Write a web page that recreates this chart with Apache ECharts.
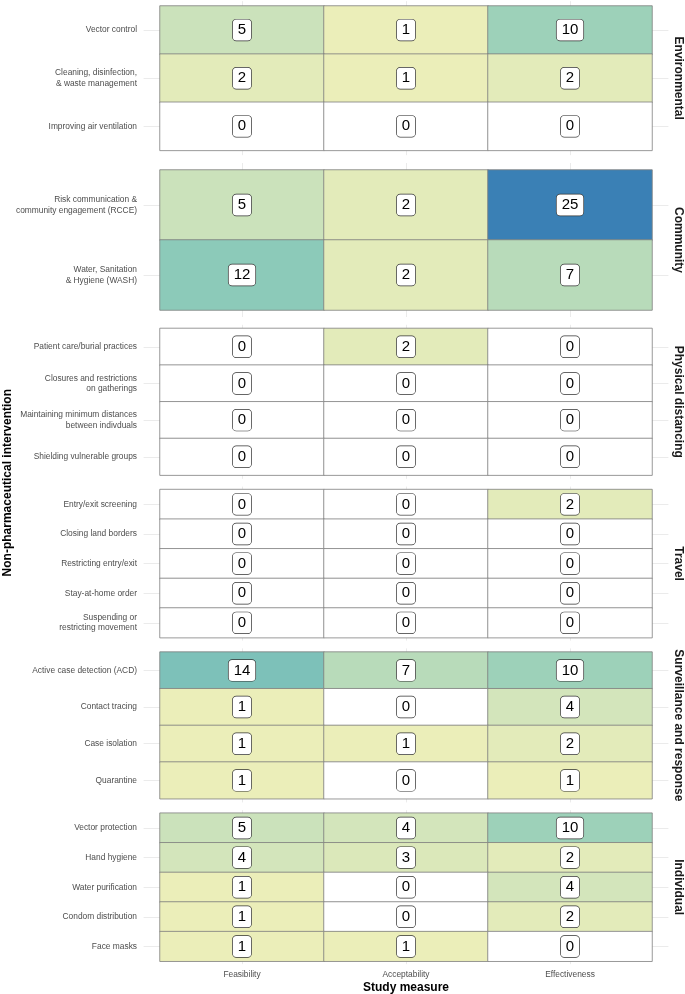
<!DOCTYPE html>
<html><head><meta charset="utf-8">
<script src="https://cdn.jsdelivr.net/npm/echarts@6/dist/echarts.min.js"></script>
<style>html,body{margin:0;padding:0;background:#fff}#c{width:685px;height:994px}</style>
</head><body><div id="c"></div>
<script>
const measures = ['Feasibility', 'Acceptability', 'Effectiveness'];
const facets = ['Environmental', 'Community', 'Physical distancing', 'Travel', 'Surveillance and response', 'Individual'];
const interventions = [
  'Vector control', 'Cleaning, disinfection,\n& waste management', 'Improving air ventilation',
  'Risk communication &\ncommunity engagement (RCCE)', 'Water, Sanitation\n& Hygiene (WASH)',
  'Patient care/burial practices', 'Closures and restrictions\non gatherings', 'Maintaining minimum distances\nbetween indivduals', 'Shielding vulnerable groups',
  'Entry/exit screening', 'Closing land borders', 'Restricting entry/exit', 'Stay-at-home order', 'Suspending or\nrestricting movement',
  'Active case detection (ACD)', 'Contact tracing', 'Case isolation', 'Quarantine',
  'Vector protection', 'Hand hygiene', 'Water purification', 'Condom distribution', 'Face masks'
];
const groups = [
  0, 0, 0,
  1, 1,
  2, 2, 2, 2,
  3, 3, 3, 3, 3,
  4, 4, 4, 4,
  5, 5, 5, 5, 5
];
const feasibility   = [5, 2, 0, 5, 12, 0, 0, 0, 0, 0, 0, 0, 0, 0, 14, 1, 1, 1, 5, 4, 1, 1, 1];
const acceptability = [1, 1, 0, 2, 2, 2, 0, 0, 0, 0, 0, 0, 0, 0, 7, 0, 1, 0, 4, 3, 0, 0, 1];
const effectiveness = [10, 2, 0, 25, 7, 0, 0, 0, 0, 2, 0, 0, 0, 0, 10, 4, 2, 1, 10, 2, 4, 2, 0];
const fillColors = ['#ebeeb9', '#cbe2bb', '#a6d4b9', '#83c7b9', '#6bafb8', '#5298b6', '#3a80b5'];

const FONT = 'Liberation Sans, Arial, sans-serif';
const valuesByMeasure = [feasibility, acceptability, effectiveness];

// layout
const panelTop0 = 1.2, panelH = 154, panelPitch = 161.8;
const gridLeft = 160, gridRight = 33;
const sideStub = 16.4;

const grids = [], xAxes = [], yAxes = [], series = [];
facets.forEach((f, fi) => {
  const rows = [];
  interventions.forEach((name, i) => { if (groups[i] === fi) rows.push(i); });
  const n = rows.length;
  const pTop = panelTop0 + fi * panelPitch;
  const off = panelH * 0.1 / (n + 0.2);
  const h = panelH * n / (n + 0.2);
  grids.push({ left: gridLeft, right: gridRight, top: pTop + off, height: h, outerBoundsMode: 'none', containLabel: false });
  const last = fi === facets.length - 1;
  const stubStyle = { lineStyle: { color: '#ebebeb', width: 1 } };
  xAxes.push({
    type: 'category', gridIndex: fi, data: measures, position: 'bottom',
    axisLine: { show: false },
    axisTick: Object.assign({ show: true, alignWithLabel: true, length: off, interval: 0 }, stubStyle),
    axisLabel: { show: last, fontSize: 8.4, color: '#4d4d4d', margin: 9, fontFamily: FONT, interval: 0 },
    splitLine: { show: false }
  });
  xAxes.push({
    type: 'category', gridIndex: fi, data: measures, position: 'top',
    axisLine: { show: false },
    axisTick: Object.assign({ show: true, alignWithLabel: true, length: off, interval: 0 }, stubStyle),
    axisLabel: { show: false }, splitLine: { show: false }
  });
  const cats = rows.map(i => interventions[i]);
  yAxes.push({
    type: 'category', gridIndex: fi, data: cats, inverse: true, position: 'left',
    axisLine: { show: false },
    axisTick: Object.assign({ show: true, alignWithLabel: true, length: sideStub, interval: 0 }, stubStyle),
    axisLabel: { fontSize: 8.4, color: '#4d4d4d', margin: 23, lineHeight: 10.5, fontFamily: FONT, interval: 0, align: 'right' },
    splitLine: { show: false }
  });
  yAxes.push({
    type: 'category', gridIndex: fi, data: cats, inverse: true, position: 'right',
    axisLine: { show: false },
    axisTick: Object.assign({ show: true, alignWithLabel: true, length: sideStub, interval: 0 }, stubStyle),
    axisLabel: { show: false }, splitLine: { show: false },
    name: f, nameLocation: 'middle', nameRotate: -90, nameGap: 20.5,
    nameTextStyle: { fontSize: 12, fontWeight: 'bold', color: '#1a1a1a', fontFamily: FONT }
  });
  const data = [];
  rows.forEach((ri, r) => {
    valuesByMeasure.forEach((arr, m) => { data.push([m, r, arr[ri]]); });
  });
  series.push({
    type: 'heatmap', xAxisIndex: fi * 2, yAxisIndex: fi * 2, data,
    itemStyle: { borderColor: '#7f7f7f', borderWidth: 0.8 },
    label: {
      show: true, formatter: p => String(p.value[2]), fontSize: 15, color: '#000', fontFamily: FONT,
      backgroundColor: '#fff', borderColor: '#333', borderWidth: 0.7, borderRadius: 3.5,
      padding: [3, 5, 2, 5], lineHeight: 16
    },
    emphasis: { disabled: true }
  });
});

const chart = echarts.init(document.getElementById('c'), null, { renderer: 'canvas' });
chart.setOption({
  animation: false,
  backgroundColor: '#fff',
  textStyle: { fontFamily: FONT },
  grid: grids, xAxis: xAxes, yAxis: yAxes, series,
  visualMap: {
    show: false, type: 'continuous', min: 0.999, max: 25, range: [1, 25],
    seriesIndex: series.map((s, i) => i),
    inRange: { color: fillColors },
    outOfRange: { color: '#ffffff' }
  },
  graphic: [
    { type: 'text', x: 8, y: 482.7, rotation: Math.PI / 2,
      style: { text: 'Non-pharmaceutical intervention', font: 'bold 12px ' + FONT, fill: '#000', textAlign: 'center', textVerticalAlign: 'middle' } },
    { type: 'text', x: 406, y: 987.5,
      style: { text: 'Study measure', font: 'bold 12px ' + FONT, fill: '#000', textAlign: 'center', textVerticalAlign: 'middle' } }
  ]
});
</script>
</body></html>
